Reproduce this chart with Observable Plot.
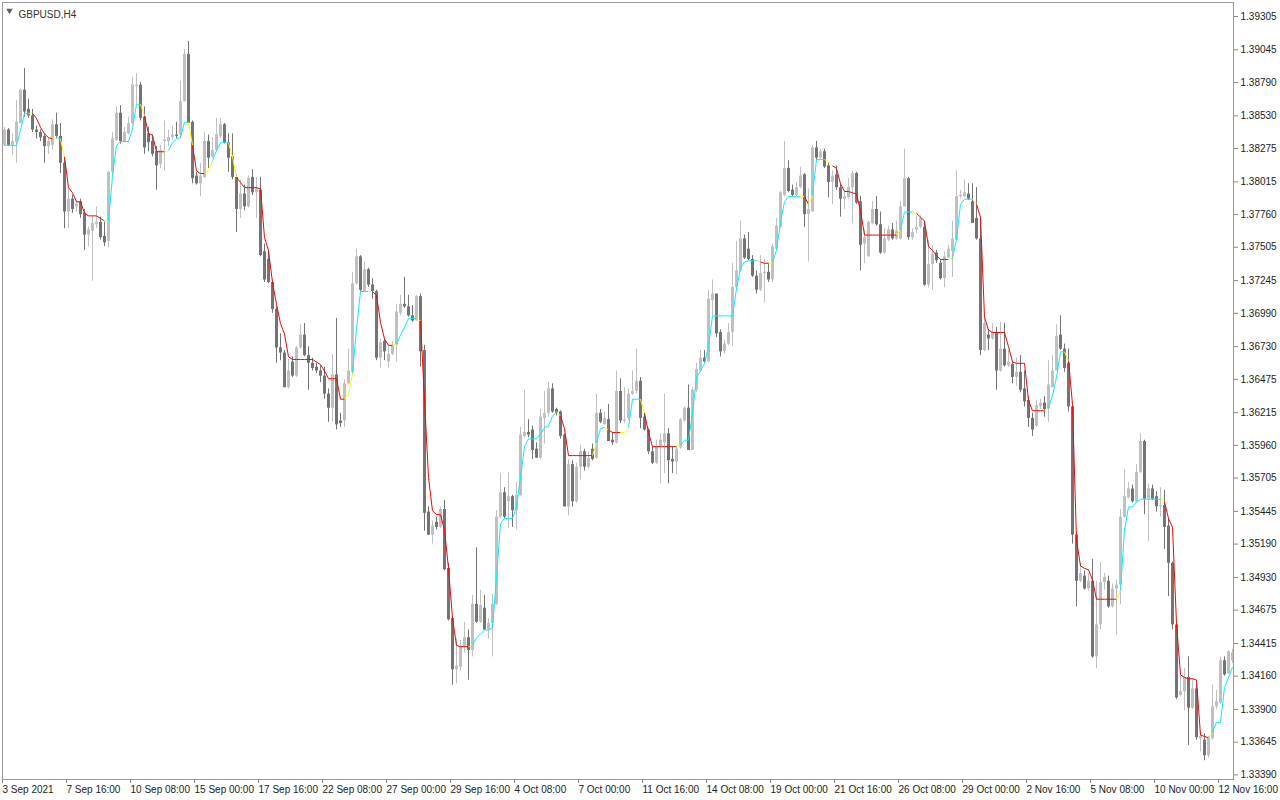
<!DOCTYPE html>
<html><head><meta charset="utf-8">
<script src="https://cdn.jsdelivr.net/npm/d3@7"></script>
<script src="https://cdn.jsdelivr.net/npm/@observablehq/plot@0.6"></script>
<style>html,body{margin:0;padding:0;background:#fff;overflow:hidden}#chart{width:1280px;height:800px}</style>
</head><body><div id="chart"></div>
<script>
// GBPUSD H4 candles, bar 0 = 3 Sep 2021 00:00
const opens = [
1.3830,1.3842,1.3830,1.3832,1.3847,1.3873,1.3858,1.3853,1.3842,1.3840,
1.3837,1.3829,1.3830,1.3846,1.3837,1.3816,1.3778,1.3788,1.3782,1.3786,
1.3777,1.3760,1.3763,1.3768,1.3770,1.3759,1.3755,1.3809,1.3834,1.3855,
1.3833,1.3839,1.3847,1.3876,1.3877,1.3852,1.3839,1.3833,1.3825,1.3815,
1.3833,1.3833,1.3836,1.3838,1.3838,1.3864,1.3901,1.3848,1.3806,1.3800,
1.3805,1.3833,1.3821,1.3826,1.3837,1.3846,1.3832,1.3821,1.3805,1.3780,
1.3792,1.3782,1.3805,1.3793,1.3795,1.3747,1.3741,1.3723,1.3702,1.3672,
1.3668,1.3641,1.3661,1.3650,1.3672,1.3682,1.3666,1.3660,1.3657,1.3654,
1.3650,1.3636,1.3625,1.3651,1.3615,1.3615,1.3644,1.3653,1.3722,1.3743,
1.3716,1.3733,1.3721,1.3716,1.3664,1.3677,1.3661,1.3667,1.3674,1.3699,
1.3706,1.3704,1.3697,1.3693,1.3712,1.3670,1.3544,1.3526,1.3536,1.3532,
1.3546,1.3500,1.3461,1.3421,1.3423,1.3439,1.3446,1.3436,1.3472,1.3458,
1.3469,1.3452,1.3457,1.3472,1.3540,1.3559,1.3552,1.3556,1.3545,1.3557,
1.3603,1.3606,1.3608,1.3593,1.3586,1.3617,1.3621,1.3640,1.3624,1.3622,
1.3604,1.3548,1.3581,1.3552,1.3579,1.3591,1.3579,1.3593,1.3586,1.3621,
1.3612,1.3616,1.3600,1.3598,1.3638,1.3615,1.3617,1.3636,1.3638,1.3646,
1.3618,1.3608,1.3591,1.3582,1.3595,1.3598,1.3605,1.3585,1.3583,1.3594,
1.3615,1.3625,1.3592,1.3639,1.3654,1.3664,1.3661,1.3709,1.3714,1.3684,
1.3669,1.3675,1.3684,1.3719,1.3732,1.3757,1.3749,1.3741,1.3728,1.3717,
1.3730,1.3731,1.3725,1.3749,1.3766,1.3791,1.3812,1.3795,1.3791,1.3797,
1.3807,1.3776,1.3778,1.3828,1.3820,1.3825,1.3814,1.3801,1.3807,1.3797,
1.3788,1.3789,1.3797,1.3808,1.3786,1.3753,1.3743,1.3769,1.3780,1.3768,
1.3746,1.3756,1.3764,1.3757,1.3757,1.3782,1.3804,1.3758,1.3764,1.3766,
1.3766,1.3721,1.3737,1.3746,1.3738,1.3726,1.3742,1.3747,1.3756,1.3790,
1.3790,1.3792,1.3786,1.3773,1.3757,1.3670,1.3682,1.3679,1.3684,1.3654,
1.3671,1.3658,1.3659,1.3649,1.3653,1.3640,1.3631,1.3617,1.3611,1.3626,
1.3629,1.3624,1.3641,1.3654,1.3682,1.3671,1.3660,1.3626,1.3526,1.3490,
1.3494,1.3484,1.3490,1.3431,1.3456,1.3489,1.3490,1.3470,1.3484,1.3487,
1.3540,1.3555,1.3562,1.3552,1.3575,1.3599,1.3554,1.3562,1.3556,1.3548,
1.3549,1.3533,1.3504,1.3456,1.3401,1.3404,1.3415,1.3391,1.3406,1.3367,
1.3366,1.3354,1.3367,1.3392,1.3395,1.3428,1.3418,1.3428];
const highs = [
1.3844,1.3843,1.3839,1.3865,1.3874,1.3890,1.3866,1.3858,1.3845,1.3842,
1.3839,1.3836,1.3850,1.3855,1.3847,1.3820,1.3796,1.3791,1.3787,1.3788,
1.3780,1.3766,1.3775,1.3782,1.3774,1.3770,1.3810,1.3840,1.3860,1.3861,
1.3844,1.3852,1.3883,1.3886,1.3879,1.3860,1.3844,1.3838,1.3829,1.3830,
1.3849,1.3842,1.3845,1.3848,1.3880,1.3905,1.3911,1.3849,1.3809,1.3816,
1.3840,1.3838,1.3836,1.3851,1.3851,1.3847,1.3839,1.3839,1.3807,1.3803,
1.3799,1.3806,1.3811,1.3805,1.3805,1.3753,1.3748,1.3725,1.3704,1.3683,
1.3670,1.3663,1.3665,1.3673,1.3690,1.3691,1.3673,1.3664,1.3660,1.3658,
1.3657,1.3640,1.3667,1.3695,1.3621,1.3647,1.3671,1.3731,1.3749,1.3744,
1.3739,1.3734,1.3726,1.3717,1.3679,1.3679,1.3674,1.3677,1.3706,1.3713,
1.3727,1.3713,1.3705,1.3713,1.3714,1.3674,1.3548,1.3537,1.3540,1.3548,
1.3553,1.3504,1.3462,1.3445,1.3444,1.3458,1.3452,1.3479,1.3516,1.3483,
1.3479,1.3461,1.3480,1.3545,1.3574,1.3563,1.3575,1.3557,1.3567,1.3610,
1.3639,1.3616,1.3611,1.3598,1.3624,1.3638,1.3645,1.3644,1.3625,1.3623,
1.3605,1.3585,1.3584,1.3582,1.3596,1.3593,1.3591,1.3597,1.3636,1.3624,
1.3622,1.3628,1.3606,1.3654,1.3648,1.3641,1.3640,1.3654,1.3671,1.3649,
1.3621,1.3609,1.3595,1.3600,1.3605,1.3636,1.3609,1.3595,1.3595,1.3617,
1.3626,1.3643,1.3641,1.3660,1.3670,1.3670,1.3717,1.3725,1.3714,1.3686,
1.3678,1.3691,1.3738,1.3755,1.3771,1.3760,1.3762,1.3744,1.3732,1.3744,
1.3741,1.3738,1.3753,1.3773,1.3794,1.3833,1.3818,1.3799,1.3801,1.3813,
1.3808,1.3796,1.3830,1.3833,1.3827,1.3827,1.3816,1.3810,1.3814,1.3800,
1.3794,1.3804,1.3810,1.3809,1.3790,1.3764,1.3771,1.3786,1.3790,1.3778,
1.3765,1.3767,1.3769,1.3771,1.3786,1.3827,1.3805,1.3765,1.3775,1.3775,
1.3771,1.3756,1.3752,1.3748,1.3741,1.3747,1.3752,1.3771,1.3810,1.3795,
1.3803,1.3800,1.3800,1.3797,1.3774,1.3695,1.3686,1.3691,1.3688,1.3692,
1.3691,1.3670,1.3661,1.3664,1.3666,1.3654,1.3634,1.3621,1.3631,1.3632,
1.3634,1.3662,1.3666,1.3690,1.3697,1.3675,1.3671,1.3627,1.3528,1.3504,
1.3498,1.3496,1.3507,1.3490,1.3505,1.3496,1.3494,1.3488,1.3491,1.3546,
1.3577,1.3567,1.3565,1.3581,1.3605,1.3600,1.3566,1.3565,1.3560,1.3563,
1.3561,1.3539,1.3505,1.3457,1.3420,1.3422,1.3431,1.3414,1.3410,1.3372,
1.3371,1.3369,1.3409,1.3405,1.3431,1.3431,1.3436,1.3437];
const lows = [
1.3829,1.3829,1.3822,1.3816,1.3847,1.3852,1.3851,1.3840,1.3835,1.3833,
1.3816,1.3823,1.3826,1.3835,1.3808,1.3765,1.3765,1.3777,1.3778,1.3773,
1.3748,1.3751,1.3724,1.3765,1.3756,1.3751,1.3750,1.3806,1.3833,1.3831,
1.3832,1.3838,1.3846,1.3862,1.3849,1.3823,1.3825,1.3821,1.3795,1.3812,
1.3810,1.3829,1.3834,1.3835,1.3835,1.3864,1.3846,1.3800,1.3799,1.3790,
1.3804,1.3812,1.3820,1.3825,1.3835,1.3831,1.3809,1.3803,1.3762,1.3773,
1.3779,1.3781,1.3791,1.3773,1.3743,1.3723,1.3722,1.3699,1.3660,1.3662,
1.3641,1.3640,1.3649,1.3649,1.3671,1.3665,1.3639,1.3654,1.3652,1.3645,
1.3632,1.3614,1.3614,1.3608,1.3610,1.3610,1.3643,1.3652,1.3721,1.3716,
1.3716,1.3719,1.3710,1.3662,1.3656,1.3662,1.3656,1.3666,1.3661,1.3697,
1.3703,1.3696,1.3692,1.3693,1.3657,1.3529,1.3526,1.3519,1.3530,1.3531,
1.3498,1.3459,1.3409,1.3410,1.3420,1.3434,1.3413,1.3431,1.3457,1.3457,
1.3452,1.3445,1.3431,1.3471,1.3539,1.3539,1.3531,1.3532,1.3530,1.3556,
1.3602,1.3602,1.3585,1.3586,1.3585,1.3597,1.3618,1.3621,1.3619,1.3601,
1.3548,1.3541,1.3548,1.3551,1.3569,1.3576,1.3578,1.3584,1.3585,1.3613,
1.3612,1.3599,1.3596,1.3597,1.3613,1.3613,1.3615,1.3635,1.3636,1.3609,
1.3607,1.3589,1.3581,1.3581,1.3566,1.3574,1.3566,1.3574,1.3573,1.3593,
1.3614,1.3592,1.3592,1.3637,1.3654,1.3660,1.3661,1.3697,1.3680,1.3665,
1.3667,1.3674,1.3673,1.3718,1.3731,1.3741,1.3740,1.3727,1.3714,1.3716,
1.3707,1.3723,1.3723,1.3748,1.3765,1.3790,1.3793,1.3790,1.3790,1.3796,
1.3766,1.3739,1.3778,1.3818,1.3819,1.3812,1.3789,1.3784,1.3795,1.3774,
1.3780,1.3788,1.3769,1.3784,1.3732,1.3738,1.3743,1.3768,1.3767,1.3745,
1.3745,1.3755,1.3756,1.3756,1.3756,1.3782,1.3756,1.3756,1.3761,1.3765,
1.3720,1.3719,1.3717,1.3738,1.3725,1.3719,1.3742,1.3727,1.3756,1.3788,
1.3789,1.3787,1.3769,1.3756,1.3666,1.3669,1.3670,1.3678,1.3639,1.3653,
1.3657,1.3657,1.3644,1.3642,1.3637,1.3626,1.3610,1.3603,1.3610,1.3624,
1.3618,1.3614,1.3641,1.3654,1.3670,1.3653,1.3622,1.3519,1.3470,1.3489,
1.3483,1.3482,1.3430,1.3422,1.3452,1.3483,1.3469,1.3469,1.3448,1.3472,
1.3539,1.3554,1.3551,1.3551,1.3574,1.3542,1.3521,1.3553,1.3544,1.3540,
1.3515,1.3478,1.3452,1.3398,1.3400,1.3389,1.3362,1.3390,1.3366,1.3357,
1.3350,1.3352,1.3366,1.3390,1.3394,1.3416,1.3417,1.3426];
const closes = [
1.3842,1.3830,1.3833,1.3848,1.3873,1.3856,1.3853,1.3842,1.3840,1.3836,
1.3829,1.3833,1.3846,1.3837,1.3816,1.3778,1.3788,1.3780,1.3784,1.3776,
1.3760,1.3764,1.3769,1.3770,1.3758,1.3754,1.3809,1.3835,1.3855,1.3833,
1.3840,1.3847,1.3877,1.3877,1.3851,1.3828,1.3832,1.3823,1.3814,1.3826,
1.3834,1.3836,1.3838,1.3837,1.3864,1.3901,1.3847,1.3804,1.3800,1.3806,
1.3833,1.3820,1.3826,1.3838,1.3846,1.3832,1.3820,1.3805,1.3780,1.3792,
1.3782,1.3804,1.3793,1.3796,1.3744,1.3725,1.3723,1.3702,1.3672,1.3668,
1.3641,1.3654,1.3650,1.3672,1.3682,1.3666,1.3660,1.3656,1.3654,1.3650,
1.3636,1.3625,1.3651,1.3612,1.3613,1.3644,1.3654,1.3722,1.3743,1.3717,
1.3733,1.3721,1.3716,1.3664,1.3676,1.3669,1.3667,1.3674,1.3700,1.3706,
1.3704,1.3697,1.3693,1.3712,1.3669,1.3543,1.3526,1.3533,1.3532,1.3546,
1.3499,1.3460,1.3421,1.3424,1.3439,1.3446,1.3436,1.3472,1.3458,1.3471,
1.3452,1.3457,1.3472,1.3540,1.3559,1.3540,1.3556,1.3545,1.3557,1.3604,
1.3606,1.3604,1.3592,1.3586,1.3618,1.3621,1.3640,1.3622,1.3621,1.3603,
1.3548,1.3581,1.3552,1.3579,1.3591,1.3579,1.3586,1.3585,1.3621,1.3614,
1.3617,1.3599,1.3598,1.3638,1.3615,1.3616,1.3636,1.3638,1.3646,1.3617,
1.3608,1.3591,1.3582,1.3595,1.3600,1.3605,1.3584,1.3583,1.3593,1.3616,
1.3625,1.3592,1.3639,1.3655,1.3664,1.3661,1.3710,1.3714,1.3683,1.3669,
1.3675,1.3684,1.3719,1.3732,1.3757,1.3742,1.3741,1.3728,1.3717,1.3730,
1.3731,1.3725,1.3751,1.3767,1.3793,1.3812,1.3794,1.3791,1.3797,1.3806,
1.3776,1.3780,1.3828,1.3820,1.3825,1.3813,1.3801,1.3806,1.3797,1.3788,
1.3790,1.3797,1.3808,1.3785,1.3752,1.3758,1.3770,1.3780,1.3768,1.3746,
1.3757,1.3764,1.3757,1.3763,1.3782,1.3804,1.3758,1.3762,1.3766,1.3773,
1.3721,1.3737,1.3745,1.3740,1.3726,1.3743,1.3749,1.3757,1.3790,1.3791,
1.3793,1.3788,1.3769,1.3757,1.3670,1.3691,1.3679,1.3684,1.3654,1.3671,
1.3658,1.3661,1.3649,1.3653,1.3639,1.3630,1.3617,1.3608,1.3627,1.3629,
1.3624,1.3643,1.3654,1.3681,1.3671,1.3656,1.3626,1.3526,1.3490,1.3496,
1.3484,1.3490,1.3431,1.3456,1.3489,1.3493,1.3470,1.3484,1.3487,1.3540,
1.3556,1.3562,1.3552,1.3575,1.3599,1.3554,1.3562,1.3554,1.3548,1.3549,
1.3532,1.3504,1.3456,1.3399,1.3404,1.3415,1.3391,1.3406,1.3368,1.3369,
1.3354,1.3368,1.3392,1.3396,1.3428,1.3417,1.3435,1.3434];
// step indicator line and its state per bar (a = rising, r = falling, y = turning)
const stepLine = [
1.3830,1.3830,1.3830,1.3830,1.3842,1.3855,1.3855,1.3855,1.3851,1.3844,
1.3839,1.3836,1.3835,1.3836,1.3835,1.3821,1.3797,1.3793,1.3786,1.3786,
1.3777,1.3775,1.3775,1.3775,1.3773,1.3771,1.3771,1.3806,1.3830,1.3833,
1.3833,1.3833,1.3843,1.3862,1.3862,1.3853,1.3839,1.3838,1.3825,1.3825,
1.3825,1.3826,1.3832,1.3835,1.3836,1.3848,1.3848,1.3830,1.3810,1.3808,
1.3808,1.3810,1.3818,1.3826,1.3832,1.3832,1.3832,1.3821,1.3805,1.3801,
1.3797,1.3797,1.3797,1.3797,1.3796,1.3758,1.3748,1.3723,1.3706,1.3691,
1.3683,1.3665,1.3663,1.3663,1.3663,1.3663,1.3663,1.3663,1.3661,1.3659,
1.3654,1.3648,1.3648,1.3648,1.3632,1.3632,1.3636,1.3652,1.3687,1.3716,
1.3716,1.3716,1.3716,1.3713,1.3692,1.3679,1.3674,1.3674,1.3675,1.3682,
1.3688,1.3695,1.3695,1.3695,1.3693,1.3631,1.3571,1.3545,1.3542,1.3542,
1.3530,1.3500,1.3461,1.3440,1.3439,1.3439,1.3439,1.3440,1.3446,1.3449,
1.3452,1.3452,1.3454,1.3493,1.3535,1.3539,1.3539,1.3539,1.3548,1.3571,
1.3595,1.3601,1.3601,1.3601,1.3605,1.3610,1.3611,1.3619,1.3622,1.3619,
1.3609,1.3588,1.3588,1.3588,1.3588,1.3588,1.3588,1.3588,1.3598,1.3609,
1.3610,1.3608,1.3606,1.3606,1.3606,1.3606,1.3610,1.3632,1.3632,1.3632,
1.3621,1.3606,1.3595,1.3595,1.3595,1.3595,1.3595,1.3595,1.3595,1.3596,
1.3600,1.3600,1.3621,1.3649,1.3654,1.3660,1.3673,1.3697,1.3697,1.3697,
1.3697,1.3697,1.3697,1.3718,1.3734,1.3739,1.3740,1.3740,1.3740,1.3739,
1.3738,1.3738,1.3739,1.3748,1.3770,1.3786,1.3790,1.3790,1.3790,1.3790,
1.3790,1.3784,1.3791,1.3819,1.3819,1.3819,1.3817,1.3814,1.3812,1.3800,
1.3794,1.3794,1.3793,1.3792,1.3779,1.3760,1.3760,1.3760,1.3760,1.3760,
1.3760,1.3760,1.3760,1.3760,1.3764,1.3778,1.3778,1.3778,1.3777,1.3774,
1.3771,1.3751,1.3748,1.3744,1.3741,1.3741,1.3741,1.3742,1.3757,1.3784,
1.3788,1.3788,1.3788,1.3784,1.3774,1.3696,1.3686,1.3684,1.3684,1.3684,
1.3684,1.3673,1.3661,1.3660,1.3660,1.3660,1.3631,1.3623,1.3623,1.3623,
1.3623,1.3625,1.3635,1.3649,1.3669,1.3669,1.3662,1.3628,1.3522,1.3502,
1.3500,1.3499,1.3491,1.3476,1.3476,1.3476,1.3476,1.3476,1.3476,1.3483,
1.3530,1.3548,1.3548,1.3552,1.3554,1.3554,1.3554,1.3554,1.3554,1.3554,
1.3552,1.3539,1.3532,1.3457,1.3417,1.3415,1.3414,1.3414,1.3413,1.3370,
1.3369,1.3368,1.3372,1.3380,1.3380,1.3407,1.3415,1.3423];
const stepState = [
"aaaaaaayrr","rrryayrrrr","rrrrrryaaa","aaaaayrrrr","ryaaaaayrr",
"ryyaaaayyr","rrrrrrrrrr","rrrrrrrrrr","rrrrrryyaa","aayrrrrrya",
"aaaayrrrrr","rrrrrrryaa","aaaaaaaaaa","aaaaaaaaay","rrrrrrrrya",
"ayrrryyaaa","yrrrrrrrry","aaaaaaaaaa","aaaaaaaaay","rryaaaaaaa",
"yryaaayyrr","rrrrrrrrrr","rrrryaaayr","rrrrrrryaa","aaayrrrrrr",
"rrrrrrrrrr","ryaaaayrrr","rrrrrrrrry","aaaaaaaaaa","yrrrrrrrrr",
"rryaaaaa"].join("");
const yTicks = [1.39305,1.39045,1.38790,1.38530,1.38275,1.38015,1.37760,1.37505,1.37245,1.36990,1.36730,1.36475,1.36215,1.35960,1.35705,1.35445,1.35190,1.34930,1.34675,1.34415,1.34160,1.33900,1.33645,1.33390];
const xTickBars = [0,16,32,48,64,80,96,112,128,144,160,176,192,208,224,240,256,272,288,304];
const xTickLabels = ["3 Sep 2021","7 Sep 16:00","10 Sep 08:00","15 Sep 00:00","17 Sep 16:00","22 Sep 08:00","27 Sep 00:00","29 Sep 16:00","4 Oct 08:00","7 Oct 00:00","11 Oct 16:00","14 Oct 08:00","19 Oct 00:00","21 Oct 16:00","26 Oct 08:00","29 Oct 00:00","2 Nov 16:00","5 Nov 08:00","10 Nov 00:00","12 Nov 16:00"];
const symbolTitle = "GBPUSD,H4";

const bullColor = "#c0c0c0", bearColor = "#747474";
const stateColor = {a: "#00f0ff", r: "#ff0000", y: "#ffff00"};

const bars = opens.map((o, i) => ({i, open: o, high: highs[i], low: lows[i], close: closes[i],
  color: closes[i] >= o ? bullColor : bearColor}));
const segs = stepLine.slice(1).map((v, k) => ({x1: k, y1: stepLine[k], x2: k + 1, y2: v, color: stateColor[stepState[k + 1]]}));
const labelOf = new Map(xTickBars.map((b, k) => [b, xTickLabels[k]]));

const chart = Plot.plot({
  width: 1280, height: 800,
  marginLeft: 2, marginRight: 47, marginTop: 2, marginBottom: 21,
  x: {domain: [-0.5, 307.25], axis: null},
  y: {domain: [1.33354, 1.39414], axis: null},
  style: {fontFamily: "'Liberation Sans', Arial, sans-serif", fontSize: "10px", background: "#fff"},
  marks: [
    Plot.ruleX(bars, {x: "i", y1: "low", y2: "high", stroke: "color", strokeWidth: 1, clip: true}),
    Plot.ruleX(bars, {x: "i", y1: "open", y2: "close", stroke: "color", strokeWidth: 3, clip: true}),
    Plot.link(segs, {x1: "x1", y1: "y1", x2: "x2", y2: "y2", stroke: "color", strokeWidth: 1, clip: true}),
    Plot.frame({stroke: "#9a9a9a"}),
    Plot.axisY(yTicks, {anchor: "right", tickFormat: d => d.toFixed(5), tickSize: 4, tickPadding: 3, stroke: "#888", fill: "#222", fontSize: 10}),
    Plot.axisX(xTickBars, {anchor: "bottom", tickFormat: d => labelOf.get(d), tickSize: 4, tickPadding: 2, textAnchor: "start", dx: -2, stroke: "#888", fill: "#222", fontSize: 10}),
    Plot.dot([0], {frameAnchor: "top-left", dx: 7, dy: 8, symbol: "triangle", r: 2.4, rotate: 180, fill: "#606060", stroke: "none"}),
    Plot.text([symbolTitle], {frameAnchor: "top-left", dx: 16, dy: 8, text: d => d, textAnchor: "start", fill: "#333", fontSize: 10})
  ]
});
document.getElementById("chart").appendChild(chart);
</script>
</body></html>
